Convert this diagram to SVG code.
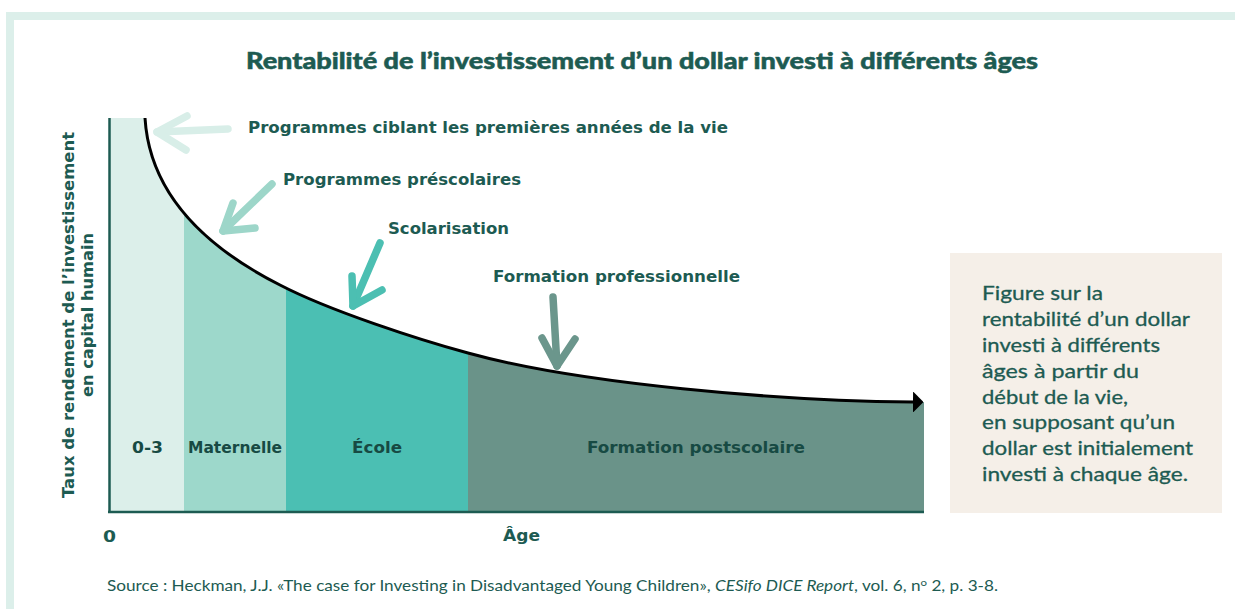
<svg xmlns="http://www.w3.org/2000/svg" width="1235" height="609" viewBox="0 0 1235 609">
<style>
.lbl{font-family:"DejaVu Sans",sans-serif;font-weight:bold;font-size:16px;fill:#1d5b52}
.reg{font-family:"DejaVu Sans",sans-serif;font-weight:bold;font-size:16px;fill:#174a43}
.title{font-family:Lato,"Liberation Sans",sans-serif;font-weight:900;font-size:22px;fill:#1d5b52;stroke:#1d5b52;stroke-width:0.5}
.box{font-family:Lato,"Liberation Sans",sans-serif;font-size:19.5px;fill:#1d5b52;stroke:#1d5b52;stroke-width:0.3}
.src{font-family:Lato,"Liberation Sans",sans-serif;font-size:15px;fill:#1d5b52}
.arr{fill:none;stroke-width:7.5;stroke-linecap:round;stroke-linejoin:round}
</style>
<defs>
<clipPath id="under">
<path d="M110,118 L145,118 C150,200 215,252 280,285 C330,311 420,340 468,353 C580,384 780,401 913,402 L924,402 L924,512 L110,512 Z"/>
</clipPath>
<marker id="head" viewBox="0 0 10 10" refX="0" refY="5" markerWidth="3.5" markerHeight="7" preserveAspectRatio="none" markerUnits="strokeWidth" orient="auto">
<path d="M0,0 L10,5 L0,10 Z" fill="#000"/>
</marker>
</defs>
<rect width="1235" height="609" fill="#ffffff"/>
<g id="frame">
<rect x="6" y="12" width="1229" height="8" fill="#dcefea"/>
<rect x="6" y="12" width="8" height="597" fill="#dcefea"/>
</g>
<g id="title">
<text class="title" x="246" y="69" textLength="792" lengthAdjust="spacingAndGlyphs">Rentabilité de l’investissement d’un dollar investi à différents âges</text>
</g>
<g id="regions" clip-path="url(#under)">
<rect x="110" y="100" width="74" height="412" fill="#dcefea"/>
<rect x="184" y="100" width="102" height="412" fill="#9dd8cb"/>
<rect x="286" y="100" width="182" height="412" fill="#4bbfb3"/>
<rect x="468" y="100" width="456" height="412" fill="#6a9389"/>
</g>
<g id="region-labels">
<text class="reg" x="147.5" y="453" text-anchor="middle" textLength="31" lengthAdjust="spacingAndGlyphs">0-3</text>
<text class="reg" x="188" y="453" textLength="94" lengthAdjust="spacingAndGlyphs">Maternelle</text>
<text class="reg" x="352" y="453" textLength="50" lengthAdjust="spacingAndGlyphs">École</text>
<text class="reg" x="587" y="453" textLength="218" lengthAdjust="spacingAndGlyphs">Formation postscolaire</text>
</g>
<g id="axes">
<line x1="109.5" y1="118" x2="109.5" y2="513" stroke="#1d5b52" stroke-width="2.5"/>
<line x1="108" y1="512" x2="924" y2="512" stroke="#1d5b52" stroke-width="2.5"/>
<text class="lbl" x="103" y="542" textLength="13" lengthAdjust="spacingAndGlyphs">0</text>
<text class="lbl" x="503" y="541" textLength="37" lengthAdjust="spacingAndGlyphs">Âge</text>
<text class="lbl" transform="rotate(-90 74 315)" x="74" y="315" text-anchor="middle" textLength="366" lengthAdjust="spacingAndGlyphs">Taux de rendement de l’investissement</text>
<text class="lbl" transform="rotate(-90 93 315)" x="93" y="315" text-anchor="middle" textLength="164" lengthAdjust="spacingAndGlyphs">en capital humain</text>
</g>
<g id="connectors">
<path d="M145,118 C150,200 215,252 280,285 C330,311 420,340 468,353 C580,384 780,401 913,402" fill="none" stroke="#000" stroke-width="3" marker-end="url(#head)"/>
<g id="arrow1" class="arr" stroke="#d8eee8">
<path d="M228,129 L157,132"/>
<path d="M187,116 L157,132 L186,150"/>
</g>
<g id="arrow2" class="arr" stroke="#9dd6c9">
<path d="M272,184 L223,231"/>
<path d="M233,203 L223,231 L255,228"/>
</g>
<g id="arrow3" class="arr" stroke="#4cbfb2">
<path d="M380,243 L353,306"/>
<path d="M352,276 L353,306 L382,290"/>
</g>
<g id="arrow4" class="arr" stroke="#6b968c">
<path d="M553,297 L557,366"/>
<path d="M542,338 L557,366 L575,339"/>
</g>
</g>
<g id="curve-labels">
<text class="lbl" x="248" y="133" textLength="480" lengthAdjust="spacingAndGlyphs">Programmes ciblant les premières années de la vie</text>
<text class="lbl" x="283" y="185" textLength="238" lengthAdjust="spacingAndGlyphs">Programmes préscolaires</text>
<text class="lbl" x="388" y="234" textLength="121" lengthAdjust="spacingAndGlyphs">Scolarisation</text>
<text class="lbl" x="493" y="282" textLength="247" lengthAdjust="spacingAndGlyphs">Formation professionnelle</text>
</g>
<g id="note">
<rect x="950" y="253" width="272" height="260" fill="#f5efe8"/>
<text class="box" x="982" y="300" textLength="121" lengthAdjust="spacingAndGlyphs">Figure sur la</text>
<text class="box" x="982" y="326" textLength="208" lengthAdjust="spacingAndGlyphs">rentabilité d’un dollar</text>
<text class="box" x="982" y="352" textLength="178" lengthAdjust="spacingAndGlyphs">investi à différents</text>
<text class="box" x="982" y="378" textLength="157" lengthAdjust="spacingAndGlyphs">âges à partir du</text>
<text class="box" x="982" y="404" textLength="146" lengthAdjust="spacingAndGlyphs">début de la vie,</text>
<text class="box" x="982" y="429" textLength="193" lengthAdjust="spacingAndGlyphs">en supposant qu’un</text>
<text class="box" x="982" y="455" textLength="211" lengthAdjust="spacingAndGlyphs">dollar est initialement</text>
<text class="box" x="982" y="481" textLength="206" lengthAdjust="spacingAndGlyphs">investi à chaque âge.</text>
</g>
<g id="source">
<text class="src" x="107" y="591" textLength="891" lengthAdjust="spacingAndGlyphs">Source : Heckman, J.J. «The case for Investing in Disadvantaged Young Children», <tspan font-style="italic">CESifo DICE Report</tspan>, vol. 6, n<tspan font-size="10" dy="-5">o</tspan><tspan dy="5"> 2, p. 3-8.</tspan></text>
</g>
</svg>
